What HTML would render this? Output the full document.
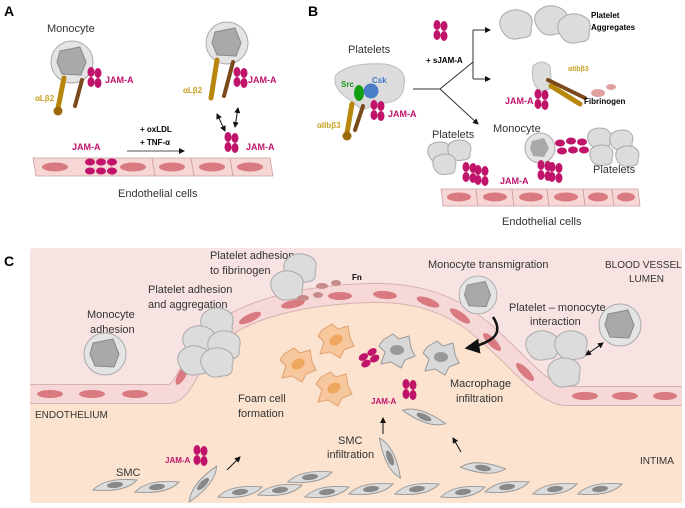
<!DOCTYPE html>
<html><head><meta charset="utf-8"><style>
html,body{margin:0;padding:0;background:#fff;width:685px;height:508px;overflow:hidden}
svg text{font-family:"Liberation Sans",sans-serif;}
</style></head><body>
<svg width="685" height="508" viewBox="0 0 685 508" xmlns="http://www.w3.org/2000/svg">
<defs>
<marker id="ar" markerWidth="6" markerHeight="6" refX="5" refY="3" orient="auto"><path d="M0,0 L6,3 L0,6 z" fill="#111"/></marker>
<marker id="as" markerWidth="6" markerHeight="6" refX="1" refY="3" orient="auto"><path d="M6,0 L0,3 L6,6 z" fill="#111"/></marker>
<g id="jam"><ellipse cx="0" cy="0" rx="3.5" ry="5" fill="#c0136a"/><ellipse cx="0" cy="10" rx="3.5" ry="5" fill="#c0136a"/><ellipse cx="7" cy="1" rx="3.5" ry="5" fill="#c0136a"/><ellipse cx="7" cy="11" rx="3.5" ry="5" fill="#c0136a"/></g>
<g id="mono"><circle r="21" fill="#e4e4e4" stroke="#aaa"/><path d="M-12,-11 L8,-15 L14,0 L9,13 L-10,12 L-15,0 Z" fill="#a9a9a9" stroke="#888"/></g>
<g id="plt"><path d="M-15,-8 Q-5,-18 8,-12 Q18,-8 14,4 Q16,14 4,14 Q-8,18 -14,8 Q-20,0 -15,-8 Z" fill="#dcdcdc" stroke="#aaa"/></g>
<g id="sp"><path d="M-11,-6 Q-4,-12 6,-9 Q13,-5 10,3 Q11,10 3,10 Q-6,12 -10,6 Q-14,0 -11,-6 Z" fill="#dcdcdc" stroke="#aaa"/></g>
<g id="smc"><path d="M-22,5 Q-10,-8 22,-5 Q10,8 -22,5 Z" fill="#dcdcdc" stroke="#999"/><ellipse cx="0" cy="0" rx="8" ry="3" fill="#888" transform="rotate(-6)"/></g>
<g id="mac"><path d="M-14,-10 L-4,-16 L2,-11 L12,-14 L14,-2 L18,6 L8,10 L4,18 L-6,12 L-16,14 L-12,2 L-18,-4 Z" fill="#d8d8d8" stroke="#999"/><ellipse rx="7" ry="5" fill="#999"/></g>
<g id="foam"><path d="M-14,-10 L-4,-16 L2,-11 L12,-14 L14,-2 L18,6 L8,10 L4,18 L-6,12 L-16,14 L-12,2 L-18,-4 Z" fill="#f7c79e" stroke="#e0a070"/><ellipse rx="7" ry="5" fill="#f0a860" transform="rotate(-30)"/></g>
</defs>

<!-- Panel A -->
<text x="4" y="16" font-size="14" font-weight="bold">A</text>
<text x="47" y="32" font-size="11" fill="#333">Monocyte</text>
<use href="#mono" x="72" y="62"/>
<path d="M64,78 L58,108" stroke="#b8860b" stroke-width="5" stroke-linecap="round"/>
<path d="M82,80 L75,106" stroke="#7a4a1a" stroke-width="4" stroke-linecap="round"/>
<circle cx="58" cy="111" r="4.5" fill="#9a6a0a"/>
<use href="#jam" x="91" y="72"/>
<text x="35" y="101" font-size="8" font-weight="bold" fill="#c9a227">αLβ2</text>
<text x="105" y="83" font-size="9" font-weight="bold" fill="#c0136a">JAM-A</text>
<use href="#mono" x="227" y="43"/>
<path d="M217,60 L211,98" stroke="#b8860b" stroke-width="5" stroke-linecap="round"/>
<path d="M233,62 L224,96" stroke="#7a4a1a" stroke-width="4" stroke-linecap="round"/>
<use href="#jam" x="237" y="72"/>
<text x="183" y="93" font-size="8" font-weight="bold" fill="#c9a227">αLβ2</text>
<text x="248" y="83" font-size="9" font-weight="bold" fill="#c0136a">JAM-A</text>
<line x1="217" y1="114" x2="225" y2="131" stroke="#111" marker-end="url(#ar)" marker-start="url(#as)"/>
<line x1="238" y1="108" x2="235" y2="127" stroke="#111" marker-end="url(#ar)" marker-start="url(#as)"/>
<use href="#jam" x="228" y="137"/>
<text x="246" y="150" font-size="9" font-weight="bold" fill="#c0136a">JAM-A</text>
<text x="140" y="132" font-size="8" font-weight="bold">+ oxLDL</text>
<text x="140" y="145" font-size="8" font-weight="bold">+ TNF-α</text>
<line x1="127" y1="151" x2="184" y2="151" stroke="#555" marker-end="url(#ar)"/>
<text x="72" y="150" font-size="9" font-weight="bold" fill="#c0136a">JAM-A</text>
<g stroke="#c9a0a0" stroke-width="0.8" fill="#f7d6d6">
<polygon points="33,158 109,158 112,176 36,176"/><polygon points="110,158 152,158 155,176 113,176"/><polygon points="152,158 191,158 194,176 155,176"/><polygon points="191,158 230,158 233,176 194,176"/><polygon points="230,158 270,158 273,176 233,176"/>
</g>
<g fill="#d97a80"><ellipse cx="55" cy="167" rx="13" ry="4.5"/><ellipse cx="133" cy="167" rx="13" ry="4.5"/><ellipse cx="172" cy="167" rx="13" ry="4.5"/><ellipse cx="212" cy="167" rx="13" ry="4.5"/><ellipse cx="250" cy="167" rx="13" ry="4.5"/></g>
<g fill="#c0136a"><ellipse cx="90" cy="162" rx="5" ry="3.5"/><ellipse cx="101" cy="162" rx="5" ry="3.5"/><ellipse cx="112" cy="162" rx="5" ry="3.5"/><ellipse cx="90" cy="171" rx="5" ry="3.5"/><ellipse cx="101" cy="171" rx="5" ry="3.5"/><ellipse cx="112" cy="171" rx="5" ry="3.5"/></g>
<text x="118" y="197" font-size="11" fill="#333">Endothelial cells</text>

<!-- Panel B -->
<text x="308" y="16" font-size="14" font-weight="bold">B</text>
<text x="348" y="53" font-size="11" fill="#333">Platelets</text>
<path d="M336,75 Q348,62 385,64 Q408,68 404,86 Q402,104 380,103 L362,110 L350,100 Q331,88 336,75 Z" fill="#dcdcdc" stroke="#bbb"/>
<ellipse cx="359" cy="93" rx="5" ry="8" fill="#12a012"/>
<circle cx="371" cy="91" r="7.5" fill="#4a7fc8"/>
<text x="341" y="87" font-size="8" font-weight="bold" fill="#1a9a1a">Src</text>
<text x="372" y="83" font-size="8" font-weight="bold" fill="#3a7ac8">Csk</text>
<path d="M352,104 L347,133" stroke="#b8860b" stroke-width="5" stroke-linecap="round"/>
<path d="M363,106 L355,130" stroke="#7a4a1a" stroke-width="4" stroke-linecap="round"/>
<circle cx="347" cy="136" r="4.5" fill="#9a6a0a"/>
<use href="#jam" x="374" y="105"/>
<text x="388" y="117" font-size="9" font-weight="bold" fill="#c0136a">JAM-A</text>
<text x="317" y="128" font-size="8" font-weight="bold" fill="#c9a227">αIIbβ3</text>
<use href="#jam" x="437" y="25"/>
<text x="426" y="63" font-size="8" font-weight="bold">+ sJAM-A</text>
<line x1="413" y1="89" x2="440" y2="89" stroke="#333"/>
<line x1="440" y1="89" x2="473" y2="62" stroke="#333"/>
<line x1="440" y1="89" x2="478" y2="124" stroke="#333" marker-end="url(#ar)"/>
<line x1="473" y1="30" x2="473" y2="79" stroke="#333"/>
<line x1="473" y1="30" x2="490" y2="30" stroke="#333" marker-end="url(#ar)"/>
<line x1="473" y1="79" x2="490" y2="79" stroke="#333" marker-end="url(#ar)"/>
<use href="#plt" x="517" y="24"/><use href="#plt" x="552" y="20"/><use href="#plt" x="575" y="28"/>
<text x="591" y="18" font-size="8" font-weight="bold">Platelet</text>
<text x="591" y="30" font-size="8" font-weight="bold">Aggregates</text>
<path d="M533,66 Q542,58 550,66 L552,88 L540,92 Q530,82 533,66 Z" fill="#dcdcdc" stroke="#bbb"/>
<path d="M548,80 L585,98" stroke="#7a4a1a" stroke-width="4" stroke-linecap="round"/>
<path d="M551,86 L580,104" stroke="#b8860b" stroke-width="5" stroke-linecap="round"/>
<ellipse cx="598" cy="93" rx="7" ry="4" fill="#e0a0a0"/><ellipse cx="611" cy="87" rx="5" ry="3" fill="#e0a0a0"/>
<text x="568" y="71" font-size="7" font-weight="bold" fill="#c9a227">αIIbβ3</text>
<text x="584" y="104" font-size="8" font-weight="bold">Fibrinogen</text>
<use href="#jam" x="538" y="94"/>
<text x="505" y="104" font-size="9" font-weight="bold" fill="#c0136a">JAM-A</text>
<text x="432" y="138" font-size="11" fill="#333">Platelets</text>
<text x="493" y="132" font-size="11" fill="#333">Monocyte</text>
<use href="#sp" x="440" y="152"/><use href="#sp" x="460" y="150"/><use href="#sp" x="445" y="164"/>
<use href="#jam" x="466" y="167"/><use href="#jam" x="478" y="170"/>
<circle cx="540" cy="148" r="15" fill="#e4e4e4" stroke="#aaa"/><path d="M532,141 L544,138 L549,148 L544,157 L533,156 L530,148 Z" fill="#a9a9a9"/>
<use href="#jam" x="541" y="165"/><use href="#jam" x="552" y="167"/>
<g fill="#c0136a"><ellipse cx="560" cy="143" rx="5" ry="3.5"/><ellipse cx="571" cy="141" rx="5" ry="3.5"/><ellipse cx="582" cy="142" rx="5" ry="3.5"/><ellipse cx="562" cy="151" rx="5" ry="3.5"/><ellipse cx="573" cy="150" rx="5" ry="3.5"/><ellipse cx="584" cy="150" rx="5" ry="3.5"/></g>
<use href="#sp" x="600" y="138"/><use href="#sp" x="622" y="140"/><use href="#sp" x="602" y="155"/><use href="#sp" x="628" y="156"/>
<text x="593" y="173" font-size="11" fill="#333">Platelets</text>
<text x="500" y="184" font-size="9" font-weight="bold" fill="#c0136a">JAM-A</text>
<g stroke="#c9a0a0" stroke-width="0.8" fill="#f7d6d6">
<polygon points="441,189 476,189 478,206 443,206"/><polygon points="476,189 512,189 514,206 478,206"/><polygon points="512,189 547,189 549,206 514,206"/><polygon points="547,189 583,189 585,206 549,206"/><polygon points="583,189 612,189 614,206 585,206"/><polygon points="612,189 638,189 640,206 614,206"/>
</g>
<g fill="#d97a80"><ellipse cx="459" cy="197" rx="12" ry="4.5"/><ellipse cx="495" cy="197" rx="12" ry="4.5"/><ellipse cx="531" cy="197" rx="12" ry="4.5"/><ellipse cx="566" cy="197" rx="12" ry="4.5"/><ellipse cx="598" cy="197" rx="10" ry="4.5"/><ellipse cx="626" cy="197" rx="9" ry="4.5"/></g>
<text x="502" y="225" font-size="11" fill="#333">Endothelial cells</text>

<!-- Panel C -->
<text x="4" y="266" font-size="14" font-weight="bold">C</text>
<rect x="30" y="248" width="652" height="255" rx="3" fill="#fbe3cf"/>
<path d="M30,251 Q30,248 33,248 L679,248 Q682,248 682,251 L682,396 L565,396 C540,394 510,350 470,320 C440,300 410,292 370,293 C300,295 240,310 210,340 C190,360 185,394 168,394 L30,394 Z" fill="#f8e3e3"/>
<path d="M30,394 L168,394 C185,394 190,360 210,340 C240,310 300,295 370,293 C410,292 440,300 470,320 C510,350 540,394 565,396 L682,396" fill="none" stroke="#d8b0b0" stroke-width="20"/>
<path d="M30,394 L168,394 C185,394 190,360 210,340 C240,310 300,295 370,293 C410,292 440,300 470,320 C510,350 540,394 565,396 L682,396" fill="none" stroke="#f6d8d8" stroke-width="18"/>
<g fill="#d97a80">
<ellipse cx="50" cy="394" rx="13" ry="4"/><ellipse cx="92" cy="394" rx="13" ry="4"/><ellipse cx="135" cy="394" rx="13" ry="4"/>
<ellipse cx="182" cy="375" rx="11" ry="4" transform="rotate(-60 182 375)"/>
<ellipse cx="210" cy="342" rx="12" ry="4" transform="rotate(-45 210 342)"/>
<ellipse cx="250" cy="318" rx="12" ry="4" transform="rotate(-25 250 318)"/>
<ellipse cx="293" cy="304" rx="12" ry="4" transform="rotate(-12 293 304)"/>
<ellipse cx="340" cy="296" rx="12" ry="4"/><ellipse cx="385" cy="295" rx="12" ry="4" transform="rotate(5 385 295)"/>
<ellipse cx="428" cy="302" rx="12" ry="4" transform="rotate(20 428 302)"/>
<ellipse cx="460" cy="316" rx="12" ry="4" transform="rotate(35 460 316)"/>
<ellipse cx="492" cy="342" rx="12" ry="4" transform="rotate(45 492 342)"/>
<ellipse cx="525" cy="372" rx="12" ry="4" transform="rotate(45 525 372)"/>
<ellipse cx="585" cy="396" rx="13" ry="4"/><ellipse cx="625" cy="396" rx="13" ry="4"/><ellipse cx="665" cy="396" rx="12" ry="4"/>
</g>
<text x="210" y="259" font-size="11" fill="#333">Platelet adhesion</text>
<text x="210" y="274" font-size="11" fill="#333">to fibrinogen</text>
<use href="#plt" x="301" y="268"/><use href="#plt" x="288" y="285"/>
<g fill="#c98a8a"><ellipse cx="322" cy="286" rx="6" ry="3"/><ellipse cx="336" cy="283" rx="5" ry="3"/><ellipse cx="303" cy="298" rx="6" ry="3"/><ellipse cx="318" cy="295" rx="5" ry="3"/></g>
<text x="352" y="280" font-size="8" font-weight="bold">Fn</text>
<text x="148" y="293" font-size="11" fill="#333">Platelet adhesion</text>
<text x="148" y="308" font-size="11" fill="#333">and aggregation</text>
<use href="#plt" x="218" y="322"/><use href="#plt" x="200" y="340"/><use href="#plt" x="225" y="345"/><use href="#plt" x="195" y="360"/><use href="#plt" x="218" y="362"/>
<text x="87" y="318" font-size="11" fill="#333">Monocyte</text>
<text x="90" y="333" font-size="11" fill="#333">adhesion</text>
<use href="#mono" x="105" y="354"/>
<text x="428" y="268" font-size="11" fill="#333">Monocyte transmigration</text>
<use href="#mono" x="478" y="295" transform="translate(47.8,29.5) scale(0.9)"/>
<path d="M493,317 Q503,332 490,340 Q480,346 467,348" stroke="#111" stroke-width="2.5" fill="none" marker-end="url(#ar)"/>
<text x="605" y="268" font-size="10" fill="#333">BLOOD VESSEL</text>
<text x="629" y="282" font-size="10" fill="#333">LUMEN</text>
<text x="509" y="311" font-size="11" fill="#333">Platelet – monocyte</text>
<text x="530" y="325" font-size="11" fill="#333">interaction</text>
<use href="#mono" x="620" y="325"/>
<use href="#plt" x="543" y="345"/><use href="#plt" x="572" y="345"/><use href="#plt" x="565" y="372"/>
<line x1="586" y1="355" x2="603" y2="343" stroke="#111" marker-end="url(#ar)" marker-start="url(#as)"/>
<use href="#foam" x="336" y="340"/><use href="#foam" x="298" y="364"/><use href="#foam" x="334" y="388"/>
<use href="#mac" x="397" y="350"/><use href="#mac" x="441" y="357"/>
<use href="#jam" x="372" y="352" transform="rotate(60 372 352)"/>
<text x="450" y="387" font-size="11" fill="#333">Macrophage</text>
<text x="456" y="402" font-size="11" fill="#333">infiltration</text>
<text x="238" y="402" font-size="11" fill="#333">Foam cell</text>
<text x="238" y="417" font-size="11" fill="#333">formation</text>
<text x="35" y="418" font-size="10" fill="#333">ENDOTHELIUM</text>
<use href="#jam" x="406" y="384"/>
<text x="371" y="404" font-size="8" font-weight="bold" fill="#c0136a">JAM-A</text>
<use href="#smc" x="424" y="417" transform="rotate(30 424 417)"/>
<line x1="383" y1="434" x2="383" y2="418" stroke="#111" marker-end="url(#ar)"/>
<line x1="461" y1="452" x2="453" y2="438" stroke="#111" marker-end="url(#ar)"/>
<line x1="227" y1="470" x2="240" y2="457" stroke="#111" marker-end="url(#ar)"/>
<text x="338" y="444" font-size="11" fill="#333">SMC</text>
<text x="327" y="458" font-size="11" fill="#333">infiltration</text>
<text x="640" y="464" font-size="10" fill="#333">INTIMA</text>
<text x="116" y="476" font-size="11" fill="#333">SMC</text>
<text x="165" y="463" font-size="8" font-weight="bold" fill="#c0136a">JAM-A</text>
<use href="#jam" x="197" y="450"/>
<use href="#smc" x="390" y="458" transform="rotate(75 390 458)"/>
<use href="#smc" x="483" y="468" transform="rotate(15 483 468)"/>
<use href="#smc" x="203" y="484" transform="rotate(-40 203 484)"/>
<use href="#smc" x="115" y="485"/><use href="#smc" x="157" y="487"/>
<use href="#smc" x="240" y="492"/><use href="#smc" x="280" y="490"/><use href="#smc" x="310" y="477"/>
<use href="#smc" x="327" y="492"/><use href="#smc" x="371" y="489"/><use href="#smc" x="417" y="489"/>
<use href="#smc" x="463" y="492"/><use href="#smc" x="507" y="487"/><use href="#smc" x="555" y="489"/><use href="#smc" x="600" y="489"/>
</svg>
</body></html>
